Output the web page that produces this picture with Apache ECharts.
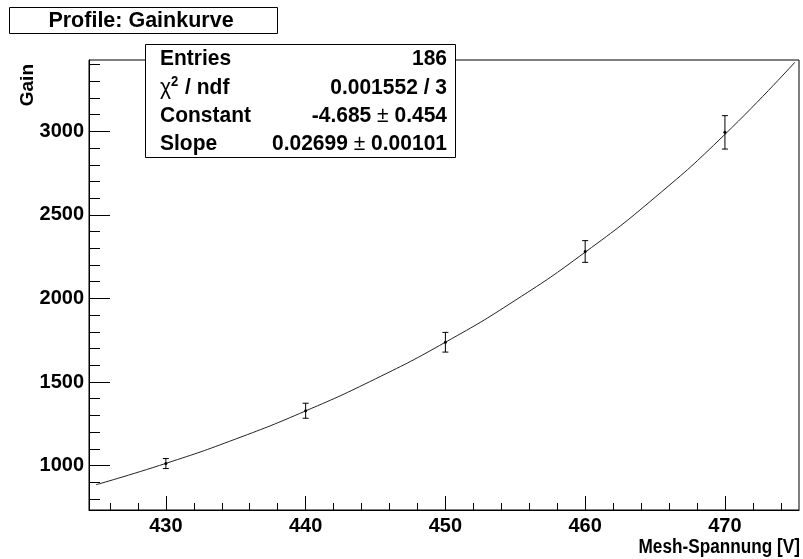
<!DOCTYPE html>
<html>
<head>
<meta charset="utf-8">
<script src="https://cdn.jsdelivr.net/npm/echarts@6/dist/echarts.min.js"></script>
<style>
html,body{margin:0;padding:0;background:#fff;}
#chart{width:803px;height:559px;}
</style>
</head>
<body>
<div id="chart"></div>
<script>
// ---- data ----
const voltages = [430, 440, 450, 460, 470];
const gainMeans = [1012, 1328, 1738, 2281, 2994];
const gainErrors = [30, 45, 59, 65, 100];

// fitted exponential curve, sampled along the axis
const fitVoltages = [425, 430, 435, 440, 445, 450, 455, 460, 465, 470, 475];
const fitGains = [885, 1013, 1159, 1327, 1519, 1738, 1989, 2277, 2605, 2982, 3413];

// axis ticks
const xMajorTicks = [430, 440, 450, 460, 470];
const xMinorTicks = [426, 428, 432, 434, 436, 438, 442, 444, 446, 448, 452, 454, 456, 458, 462, 464, 466, 468, 472, 474];
const yMajorTicks = [1000, 1500, 2000, 2500, 3000];
const yMinorTicks = [800, 900, 1100, 1200, 1300, 1400, 1600, 1700, 1800, 1900, 2100, 2200, 2300, 2400, 2600, 2700, 2800, 2900, 3100, 3200, 3300, 3400];

// texts
const titleText = 'Profile: Gainkurve';
const xTitle = 'Mesh-Spannung [V]';
const yTitle = 'Gain';
const statsLabels = ['Entries', '{g|χ}{s|2}{n| / ndf}', 'Constant', 'Slope'];
const statsValues = ['186', '0.001552 / 3', '-4.685 {g|±} 0.454', '0.02699 {g|±} 0.00101'];

const X_MIN = 424.5, X_MAX = 475.3, Y_MIN = 734, Y_MAX = 3427;
const FONT = '"Liberation Sans", Arial, Helvetica, sans-serif';
const SF = 21;

const chart = echarts.init(document.getElementById('chart'), null, {renderer: 'canvas'});

const baseX = {
  type: 'value', min: X_MIN, max: X_MAX, position: 'bottom',
  splitLine: {show: false}
};
const baseY = {
  type: 'value', min: Y_MIN, max: Y_MAX, position: 'left',
  splitLine: {show: false}
};

const richStyles = {
  n: {fontSize: SF, fontWeight: 'bold', fontFamily: FONT, fill: '#000'},
  g: {fontSize: SF, fontWeight: 'normal', fontFamily: FONT, fill: '#000'},
  s: {fontSize: 13, fontWeight: 'bold', fontFamily: FONT, fill: '#000', padding: [0, 1, 9, 0]}
};

const statsGraphics = [];
statsGraphics.push({
  type: 'rect', z: 100,
  shape: {x: 145.5, y: 44.5, width: 310, height: 113},
  style: {fill: '#fff', stroke: '#000', lineWidth: 1}
});
statsLabels.forEach((t, i) => {
  const y = 59 + i * 28.4;
  statsGraphics.push({
    type: 'text', z: 101, x: 160, y: y, scaleY: 1.08,
    style: {text: t.indexOf('{') === 0 ? t : '{n|' + t + '}', rich: richStyles, fill: '#000', verticalAlign: 'middle', align: 'left'}
  });
  statsGraphics.push({
    type: 'text', z: 101, x: 447, y: y, scaleY: 1.08,
    style: {text: '{n|' + statsValues[i].replace('{g|±}', '}{g|±}{n|') + '}', rich: richStyles, fill: '#000', verticalAlign: 'middle', align: 'right'}
  });
});

const option = {
  animation: false,
  backgroundColor: '#fff',
  grid: {
    left: 89, right: 4, top: 60, bottom: 49,
    show: true, borderColor: '#000', borderWidth: 1, backgroundColor: '#fff'
  },
  xAxis: [
    Object.assign({}, baseX, {
      axisLine: {show: true, lineStyle: {color: '#000', width: 1}},
      axisTick: {show: true, inside: true, length: 14, customValues: xMajorTicks, lineStyle: {color: '#000'}},
      axisLabel: {show: true, customValues: xMajorTicks, margin: 6, color: '#000', fontSize: 20, fontWeight: 'bold', fontFamily: FONT,
        formatter: v => String(v)}
    }),
    Object.assign({}, baseX, {
      axisLine: {show: false},
      axisTick: {show: true, inside: true, length: 7, customValues: xMinorTicks, lineStyle: {color: '#000'}},
      axisLabel: {show: false}
    })
  ],
  yAxis: [
    Object.assign({}, baseY, {
      axisLine: {show: true, lineStyle: {color: '#000', width: 1}},
      axisTick: {show: true, inside: true, length: 21, customValues: yMajorTicks, lineStyle: {color: '#000'}},
      axisLabel: {show: true, customValues: yMajorTicks, margin: 5, color: '#000', fontSize: 20, fontWeight: 'bold', fontFamily: FONT,
        formatter: v => String(v)}
    }),
    Object.assign({}, baseY, {
      axisLine: {show: false},
      axisTick: {show: true, inside: true, length: 11, customValues: yMinorTicks, lineStyle: {color: '#000'}},
      axisLabel: {show: false}
    })
  ],
  series: [
    {
      name: 'fit', type: 'line', xAxisIndex: 0, yAxisIndex: 0,
      data: fitVoltages.map((v, i) => [v, fitGains[i]]),
      smooth: true, showSymbol: false, symbol: 'none',
      lineStyle: {color: '#222', width: 1}, z: 3
    },
    {
      name: 'profile', type: 'custom', xAxisIndex: 0, yAxisIndex: 0, z: 4,
      data: voltages.map((v, i) => [v, gainMeans[i], gainErrors[i]]),
      renderItem: function (params, api) {
        const x = api.value(0), m = api.value(1), e = api.value(2);
        const c = api.coord([x, m]);
        const top = api.coord([x, m + e]);
        const bot = api.coord([x, m - e]);
        const cap = 3;
        const st = {stroke: '#000', lineWidth: 1};
        return {
          type: 'group',
          children: [
            {type: 'line', shape: {x1: c[0], y1: top[1], x2: c[0], y2: bot[1]}, style: st},
            {type: 'line', shape: {x1: c[0] - cap, y1: top[1], x2: c[0] + cap, y2: top[1]}, style: st},
            {type: 'line', shape: {x1: c[0] - cap, y1: bot[1], x2: c[0] + cap, y2: bot[1]}, style: st},
            {type: 'circle', shape: {cx: c[0], cy: c[1], r: 1.5}, style: {fill: '#000'}}
          ]
        };
      }
    }
  ],
  graphic: [
    {
      type: 'rect', z: 100,
      shape: {x: 9.5, y: 7.5, width: 268, height: 26},
      style: {fill: '#fff', stroke: '#000', lineWidth: 1}
    },
    {
      type: 'text', z: 101, x: 141, y: 21, scaleY: 1.05,
      style: {text: titleText, font: 'bold 21.5px ' + FONT, fill: '#000', align: 'center', verticalAlign: 'middle'}
    },
    {
      type: 'text', z: 101, x: 800, y: 547, scaleX: 0.86, scaleY: 1.05,
      style: {text: xTitle, font: 'bold 20px ' + FONT, fill: '#000', align: 'right', verticalAlign: 'middle'}
    },
    {
      type: 'text', z: 101, x: 28, y: 64, rotation: Math.PI / 2,
      style: {text: yTitle, font: 'bold 19px ' + FONT, fill: '#000', align: 'right', verticalAlign: 'middle'}
    }
  ].concat(statsGraphics)
};

chart.setOption(option);
</script>
</body>
</html>
